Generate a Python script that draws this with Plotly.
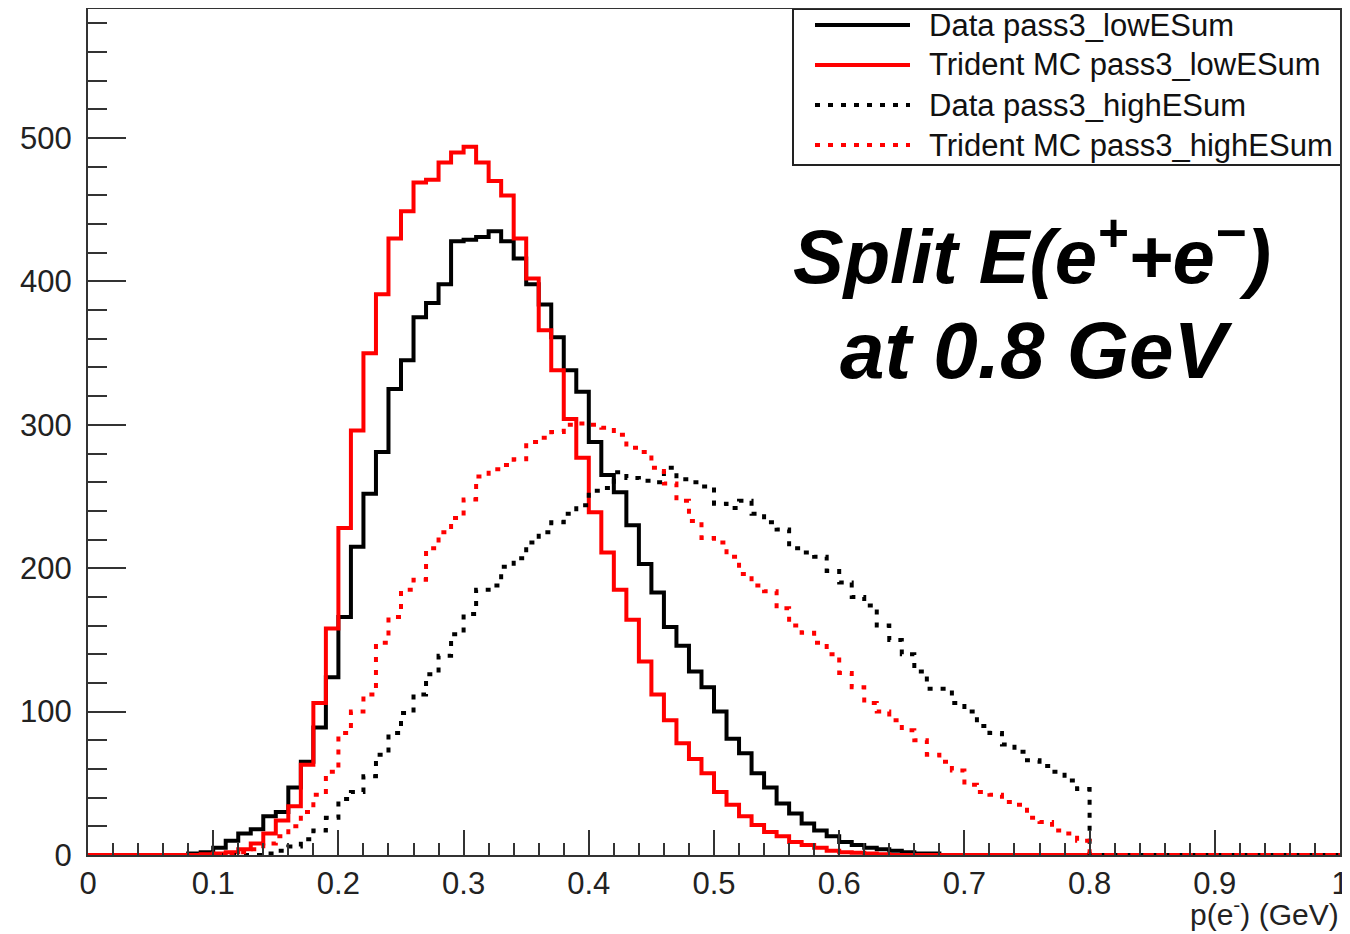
import plotly.graph_objects as go

# 100 bins of 0.01 GeV from 0 to 1
bin_edges = [round(i * 0.01, 2) for i in range(101)]

data_low = ([0] * 8 +
            [1, 2, 5, 10, 15, 18, 27, 30, 47, 65,
             89, 124, 166, 215, 252, 281, 325, 345, 375, 385,
             398, 428, 429, 431, 435, 428, 416, 398, 384, 361,
             338, 323, 288, 265, 253, 230, 203, 183, 159, 146,
             128, 117, 100, 81, 71, 57, 47, 36, 29, 22,
             17, 13, 9, 7, 5, 4, 3, 2, 1, 1] +
            [0] * 32)

mc_low = ([0] * 9 +
          [0.5, 1, 2, 4, 8, 15, 24, 34, 63, 106,
           158, 228, 296, 350, 391, 430, 449, 469, 471, 483,
           490, 494, 483, 470, 460, 430, 402, 366, 338, 304,
           277, 239, 211, 185, 164, 135, 112, 94, 78, 67,
           57, 44, 35, 27, 21, 16, 13, 9, 7, 5,
           3, 2, 1.5, 1, 0.5] +
          [0] * 36)

data_high = ([0] * 14 +
             [1, 3, 6, 11, 17, 26, 39, 44, 55, 70,
              85, 99, 112, 126, 139, 154, 168, 185, 188, 201,
              207, 218, 225, 232, 238, 244, 254, 256, 267, 263,
              261, 260, 270, 262, 260, 257, 245, 242, 247, 238,
              232, 227, 214, 211, 208, 198, 190, 180, 174, 160,
              150, 140, 128, 116, 116, 106, 100, 90, 85, 77,
              72, 66, 62, 58, 52, 46] +
             [0] * 20)

mc_high = ([0] * 10 +
           [0.5, 1, 2, 4, 8, 13, 20, 30, 42, 58,
            85, 100, 112, 148, 166, 185, 192, 214, 225, 235,
            248, 264, 269, 272, 276, 288, 291, 295, 300, 301,
            300, 298, 293, 284, 281, 270, 259, 247, 233, 221,
            218, 208, 196, 188, 184, 172, 160, 155, 148, 140,
            127, 117, 106, 100, 94, 87, 80, 70, 65, 59,
            49, 44, 42, 37, 35, 26, 23, 17, 15, 10] +
           [0] * 20)

series = [
    ("Data pass3_lowESum", data_low, dict(color="#000000", width=4)),
    ("Trident MC pass3_lowESum", mc_low, dict(color="#ff0000", width=4)),
    ("Data pass3_highESum", data_high, dict(color="#000000", width=4, dash="5px,8px")),
    ("Trident MC pass3_highESum", mc_high, dict(color="#ff0000", width=4, dash="5px,8px")),
]

# the page body keeps its default 8px margin, so the figure sits at (8, 8)
OFF = 8
W, H = 1350 - OFF, 934 - OFF
# plot area in screen pixels
L, R, T, B = 88, 1340, 9, 855
FONT = "Liberation Sans, Arial, Helvetica, sans-serif"


def px(x, y):
    # screen pixel position -> paper coordinates
    return (x - L) / (R - L), (B - y) / (B - T)


fig = go.Figure()

for name, vals, line in series:
    fig.add_trace(go.Scatter(
        x=bin_edges, y=vals + [vals[-1]],
        mode="lines", line=dict(shape="hv", **line),
        name=name, showlegend=False))

# legend box drawn by hand, ROOT style
x0, y0 = px(793, 9)
x1, y1 = px(1342, 165)
fig.add_shape(type="rect", xref="paper", yref="paper", x0=x0, y0=y1, x1=x1, y1=y0,
              line=dict(color="#222222", width=2), fillcolor="white", layer="below")
for k, (name, vals, line) in enumerate(series):
    yy = 25 + 40 * k
    ax0, ay = px(815, yy)
    ax1, _ = px(910, yy)
    fig.add_shape(type="line", xref="paper", yref="paper", x0=ax0, y0=ay, x1=ax1, y1=ay,
                  line=line)
    tx, _ = px(927, yy)
    fig.add_annotation(xref="paper", yref="paper", x=tx, y=ay, text=name,
                       showarrow=False, xanchor="left", yanchor="middle",
                       font=dict(family=FONT, size=31, color="#111111"))

ax, ay = px(1032, 251)
fig.add_annotation(xref="paper", yref="paper", x=ax, y=ay,
                   text="<b><i>Split E(e<sup>+</sup>+e<sup>−</sup>)</i></b>",
                   showarrow=False, xanchor="center", yanchor="middle",
                   font=dict(family=FONT, size=76, color="#000000"))
ax, ay = px(1036, 350)
fig.add_annotation(xref="paper", yref="paper", x=ax, y=ay,
                   text="<b><i>at 0.8 GeV</i></b>",
                   showarrow=False, xanchor="center", yanchor="middle",
                   font=dict(family=FONT, size=80, color="#000000"))

ax, ay = px(1341, 912)
fig.add_annotation(xref="paper", yref="paper", x=ax, y=ay,
                   text="p(e<sup>-</sup>) (GeV)",
                   showarrow=False, xanchor="right", yanchor="middle",
                   font=dict(family=FONT, size=30, color="#222222"))

fig.update_xaxes(range=[0, 1], dtick=0.1, tick0=0, ticks="inside", ticklen=25,
                 tickwidth=1.5, tickcolor="#333333",
                 minor=dict(dtick=0.02, ticks="inside", ticklen=12, tickcolor="#333333", tickwidth=1.5),
                 showline=True, linecolor="#333333", linewidth=2, mirror=True,
                 showgrid=False, zeroline=False, automargin=False,
                 tickfont=dict(family=FONT, size=31, color="#222222"))
fig.update_yaxes(range=[0, 590], dtick=100, tick0=0, ticks="inside", ticklen=38,
                 tickwidth=1.5, tickcolor="#333333",
                 minor=dict(dtick=20, ticks="inside", ticklen=19, tickcolor="#333333", tickwidth=1.5),
                 showline=True, linecolor="#333333", linewidth=2, mirror=True,
                 showgrid=False, zeroline=False, automargin=False, ticklabelstandoff=8,
                 tickfont=dict(family=FONT, size=31, color="#222222"))

fig.update_layout(width=W, height=H, plot_bgcolor="white", paper_bgcolor="white",
                  margin=dict(l=L - OFF, r=1350 - R, t=T - OFF, b=934 - B),
                  showlegend=False)

fig.write_html("out.html")
